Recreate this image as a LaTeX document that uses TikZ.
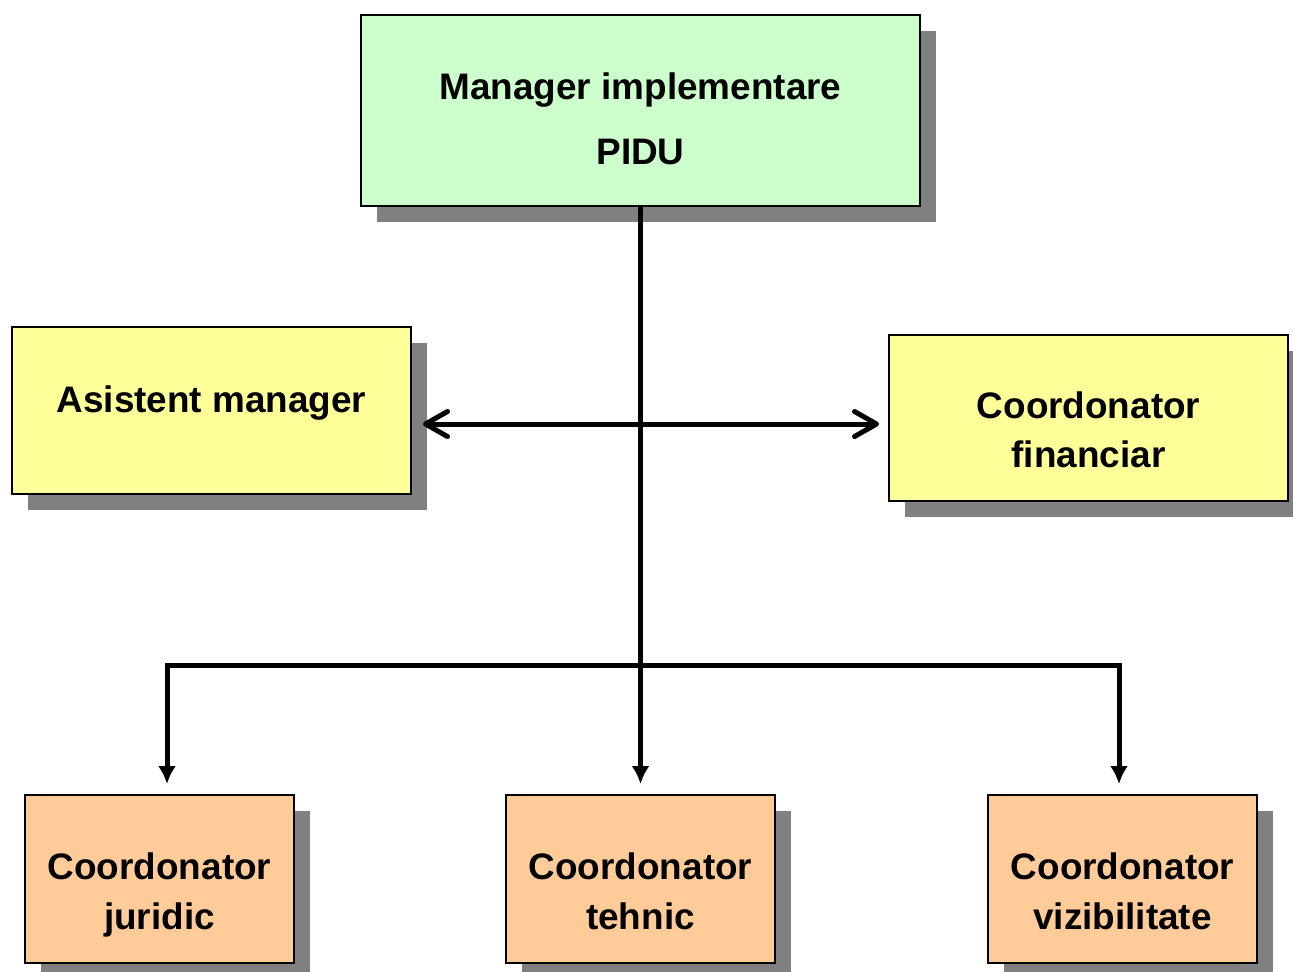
\documentclass[tikz,border=0pt]{standalone}
\usepackage{fontspec}
\setmainfont{Liberation Sans}
\usetikzlibrary{arrows.meta,shadows}
\definecolor{mgrgreen}{HTML}{CCFFCC}
\definecolor{sideyellow}{HTML}{FFFF99}
\definecolor{coordorange}{HTML}{FFCC99}
\tikzset{basic/.style={draw,line width=0.04cm,
                       drop shadow={shadow xshift=0.32cm,shadow yshift=-0.32cm,
                                    fill=black!50,opacity=1}}}
\tikzset{lbl/.style={font=\bfseries\fontsize{21}{28}\selectfont,align=center}}

\begin{document}
\begin{tikzpicture}[x=0.02cm,y=-0.02cm,
      % styles for clarity
      top/.style   ={basic, fill=mgrgreen, minimum width=11.18cm, minimum height=3.82cm},
      side/.style  ={basic, fill=sideyellow, minimum width=8cm, minimum height=3.34cm},
      low/.style   ={basic, fill=coordorange, minimum width=5.38cm, minimum height=3.36cm},
      link/.style  ={line width=0.1cm},
      head/.tip    ={Latex[length=0.36cm,width=0.36cm]},
      barb/.tip    ={Straight Barb[round,length=0.44cm,width=0.5cm]}
    ]
    \useasboundingbox (0,0) rectangle (1293,971);

    % manager and the two assistants
    \node[top]  (mgr)   at (640.5,110.5) {};
    \node[lbl]  (mgrtxt) at (640.5,119) {Manager implementare\\[9pt]PIDU};
    \node[side] (asist) at (211.5,410.5) {};
    \node[lbl]  (asisttxt) at (211.5,403) {Asistent manager};
    \node[side] (fin)   at (1088.5,418) {};
    \node[lbl]  (fintxt) at (1088.5,430) {Coordonator\\financiar};

    % coordinators on the bottom row
    \foreach \nm/\x/\txt in {jur/159.5/juridic, teh/640.5/tehnic, viz/1122.5/vizibilitate}{
      \node[low] (\nm) at (\x,879) {};
      \node[lbl] (\nm txt) at (\x,895) {Coordonator\\\txt\vphantom{j}};
    }

    % connectors
    \coordinate (mid)  at (643,424);
    \coordinate (busL) at (167,665);
    \coordinate (busR) at (1119,665);
    \draw[link, -head, shorten >=0.2cm] (mgr) -- (teh);
    \draw[link, head-head, shorten <=0.2cm, shorten >=0.2cm]
      (busL |- jur.north) -- (busL) -- (busR) -- (busR |- viz.north);
    \draw[link, barb-barb, shorten <=0.21cm, shorten >=0.17cm]
      (mid -| asist.east) -- (mid -| fin.west);
  \end{tikzpicture}
\end{document}
